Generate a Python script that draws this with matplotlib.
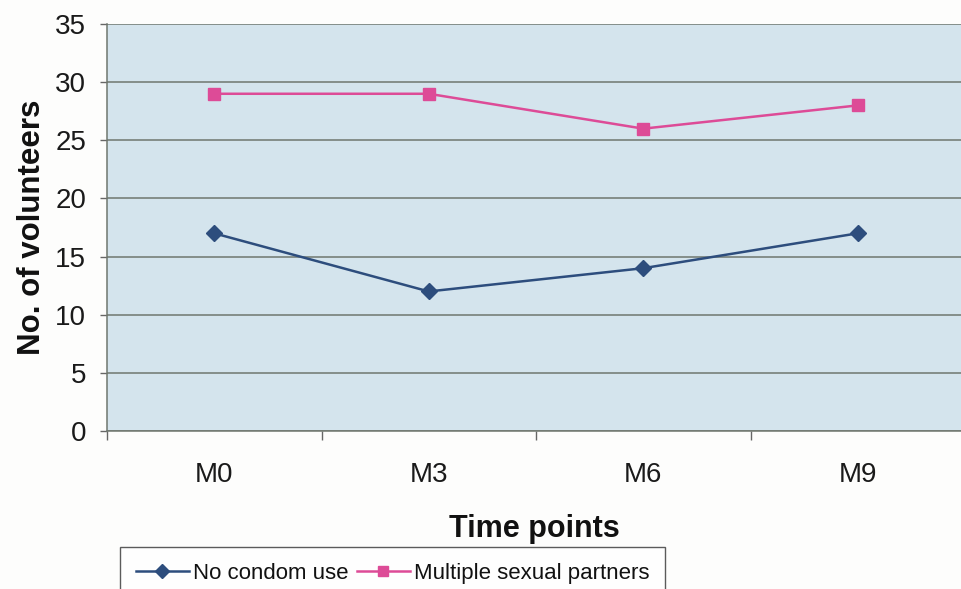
import matplotlib
matplotlib.use("Agg")
import matplotlib.pyplot as plt
from matplotlib.ticker import FixedLocator, NullFormatter

categories = ["M0", "M3", "M6", "M9"]
no_condom = [17, 12, 14, 17]
multiple_partners = [29, 29, 26, 28]
yticks = [0, 5, 10, 15, 20, 25, 30, 35]

plt.rcParams['font.family'] = ['Liberation Sans', 'DejaVu Sans']

fig = plt.figure(figsize=(9.61, 5.89), dpi=100)
fig.patch.set_facecolor("#fdfdfc")
ax = fig.add_axes([107/961, 1-431/589, 854/961, 407/589])
ax.set_facecolor("#d4e4ed")

x = list(range(len(categories)))
ax.plot(x, no_condom, color="#2d4d7d", lw=1.8, marker="D", ms=8.5, label="No condom use", zorder=3)
ax.plot(x, multiple_partners, color="#dd4b97", lw=1.8, marker="s", ms=8.5, label="Multiple sexual partners", zorder=3)

ax.set_xlim(-0.5, -0.5 + 854/214.5)
ax.set_ylim(0, 35)
ax.set_yticks(yticks)
ax.yaxis.grid(True, color="#6f776f", lw=1.1)
ax.set_axisbelow(True)

ax.set_xticks(x)
ax.set_xticklabels(categories)
ax.xaxis.set_minor_locator(FixedLocator([-0.5, 0.5, 1.5, 2.5]))
ax.xaxis.set_minor_formatter(NullFormatter())
ax.tick_params(axis="x", which="major", length=0, pad=22, labelsize=20, labelcolor="#1a1a1a")
ax.tick_params(axis="x", which="minor", length=6.5, color="#666666", width=1)
ax.tick_params(axis="y", length=5, color="#666666", width=1, labelsize=20, pad=10, labelcolor="#1a1a1a")

for s in ["top", "right"]:
    ax.spines[s].set_visible(False)
for s in ["left", "bottom"]:
    ax.spines[s].set_color("#6f776f")
    ax.spines[s].set_linewidth(1.1)

ax.set_ylabel("No. of volunteers", fontsize=22.5, fontweight="bold", labelpad=6, color="#111111")
ax.set_xlabel("Time points", fontsize=22, fontweight="bold", labelpad=19, color="#111111")

leg = fig.legend(loc="upper left", bbox_to_anchor=(120/961, 1-547/589), ncol=2,
                 frameon=True, fancybox=False, edgecolor="#333333", fontsize=16,
                 handlelength=2.4, handletextpad=0.2, columnspacing=0.35,
                 borderpad=0.7, borderaxespad=0, markerscale=0.85)
leg.get_frame().set_linewidth(1)
for t in leg.get_texts():
    t.set_color("#111111")

fig.savefig("out.png", dpi=100, facecolor=fig.get_facecolor())
